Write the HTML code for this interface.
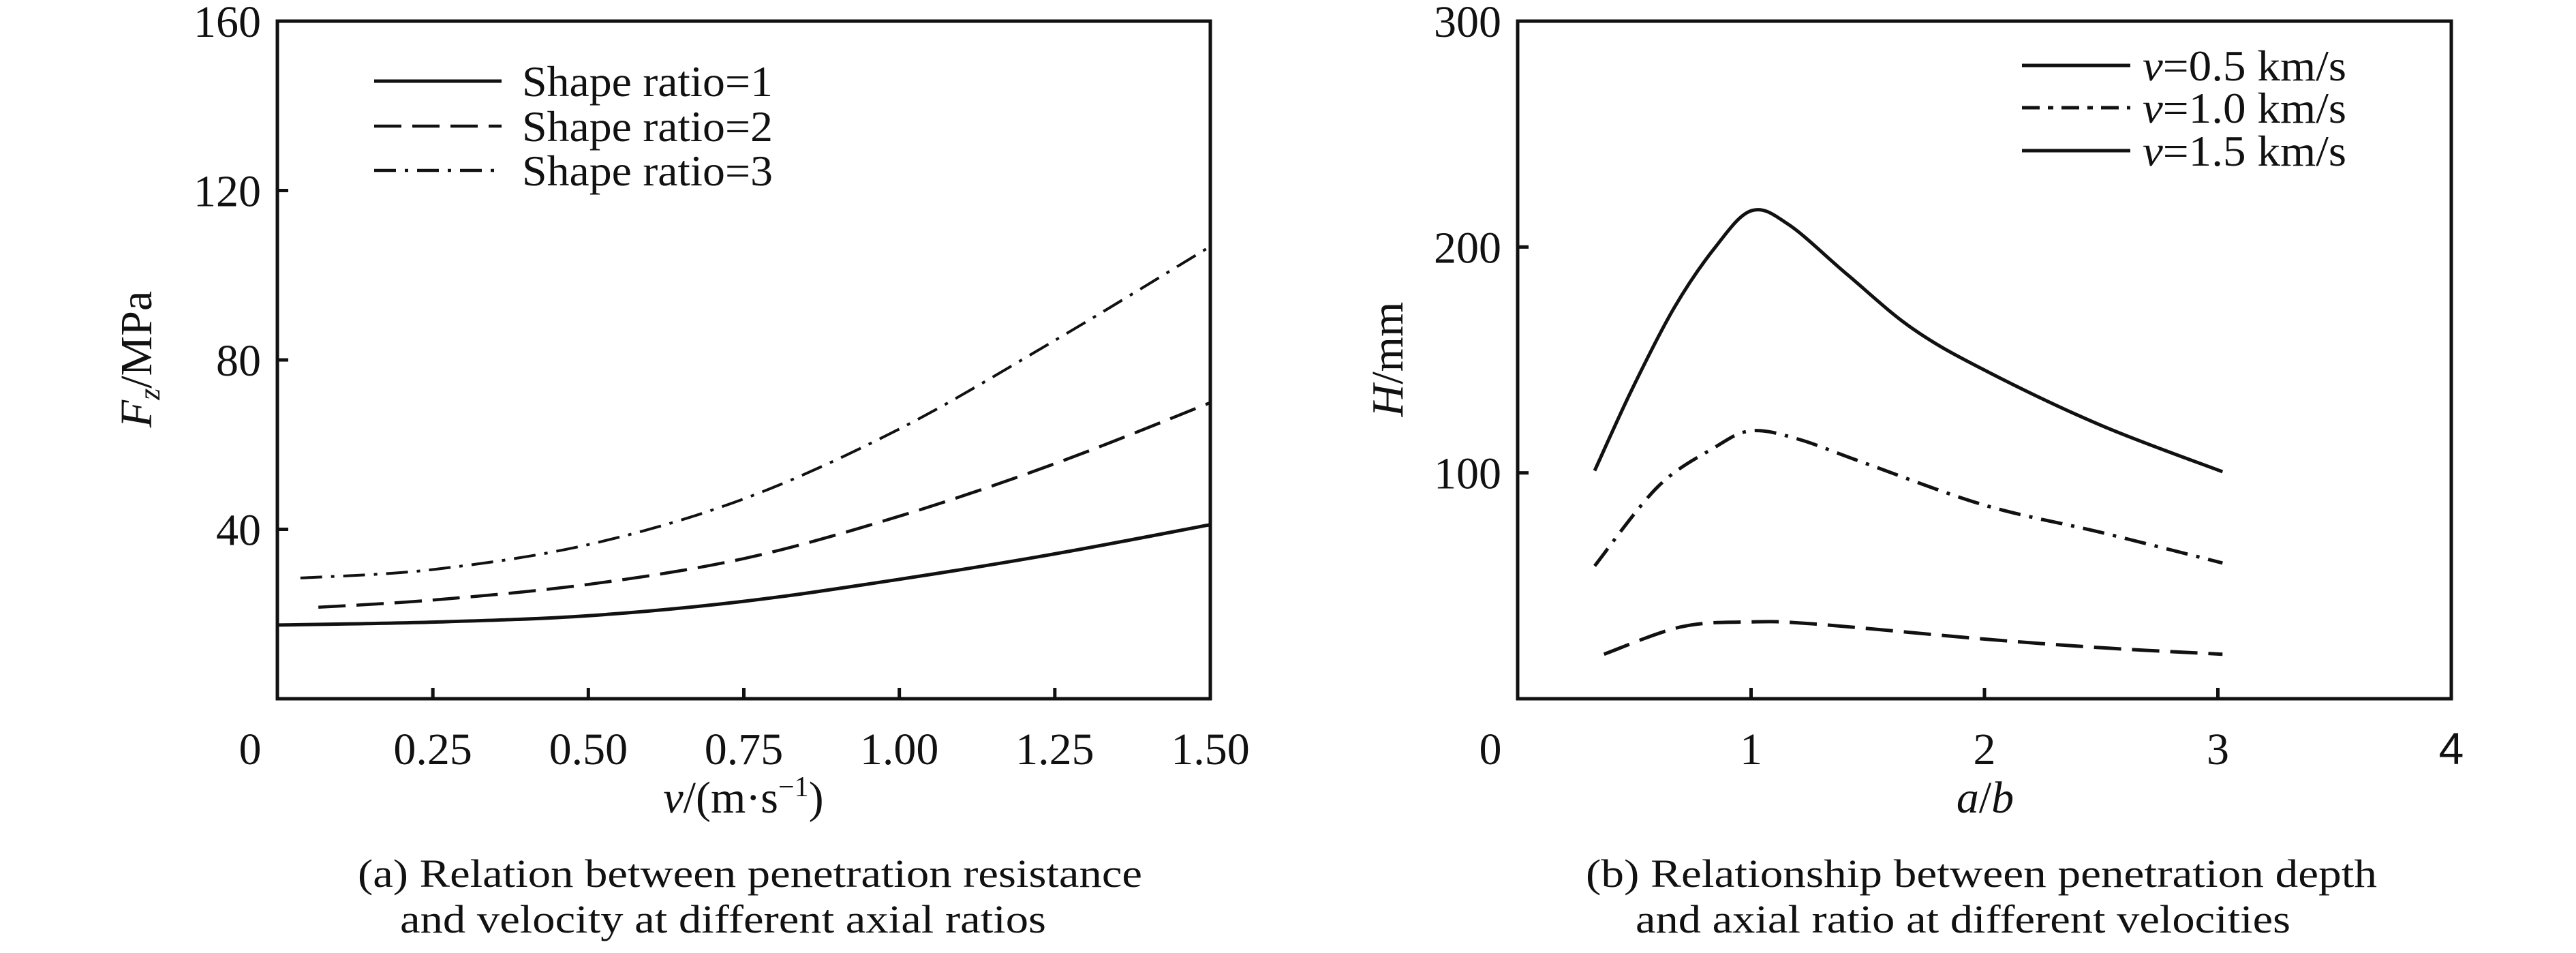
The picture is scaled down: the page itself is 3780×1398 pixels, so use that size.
<!DOCTYPE html>
<html><head><meta charset="utf-8"><style>
html,body{margin:0;padding:0;background:#fff;}
svg{display:block;}
text{font-family:"Liberation Serif",serif;fill:#111;}
</style></head><body>
<svg id="fig" width="3780" height="1398" viewBox="0 0 3780 1398" xmlns="http://www.w3.org/2000/svg"></svg>
<script>
// ---- chart (a) data ----
const aTicksX = [0.25, 0.5, 0.75, 1.0, 1.25, 1.5];
const aTickLabelsX = ["0.25","0.50","0.75","1.00","1.25","1.50"];
const aTicksY = [40, 80, 120, 160];
const aTickLabelsY = ["40","80","120","160"];
const aNames = ["Shape ratio=1","Shape ratio=2","Shape ratio=3"];
const aX1 = [0, 0.25, 0.5, 0.75, 1.0, 1.25, 1.5];
const aY1 = [17.4, 18.1, 19.6, 23.0, 28.2, 34.2, 41.1];
const aX2 = [0.066, 0.25, 0.5, 0.75, 1.0, 1.25, 1.5];
const aY2 = [21.6, 23.3, 27.0, 33.1, 43.1, 55.5, 69.9];
const aX3 = [0.037, 0.25, 0.5, 0.75, 1.0, 1.25, 1.5];
const aY3 = [28.5, 30.5, 36.4, 47.2, 63.7, 84.6, 106.8];
// ---- chart (b) data ----
const bTicksX = [1, 2, 3, 4];
const bTickLabelsX = ["1","2","3","4"];
const bTicksY = [100, 200, 300];
const bTickLabelsY = ["100","200","300"];
const bNames = ["=0.5 km/s","=1.0 km/s","=1.5 km/s"];
const bX1 = [0.33, 0.49, 0.67, 0.84, 1.0, 1.16, 1.41, 1.69, 2.0, 2.5, 3.02];
const bY1 = [101, 137, 173, 199, 216, 210, 188, 164, 145.5, 121, 100.5];
const bX2 = [0.33, 0.6, 0.84, 1.0, 1.2, 1.48, 2.0, 2.5, 3.02];
const bY2 = [58.8, 93.8, 111, 118.6, 115, 104.6, 85.7, 73.6, 60.1];
const bX3 = [0.37, 0.7, 1.0, 1.27, 2.0, 2.53, 3.02];
const bY3 = [19.7, 31.8, 34, 33.1, 26.4, 22.4, 19.7];

const NS = "http://www.w3.org/2000/svg";
const svg = document.getElementById('fig');
function mk(tag, attrs, parent){
  const e = document.createElementNS(NS, tag);
  for (const k in attrs) e.setAttribute(k, attrs[k]);
  (parent||svg).appendChild(e);
  return e;
}
function smooth(pts){
  let d = "M"+pts[0][0].toFixed(1)+","+pts[0][1].toFixed(1);
  for (let i=0;i<pts.length-1;i++){
    const p0=pts[Math.max(0,i-1)], p1=pts[i], p2=pts[i+1], p3=pts[Math.min(pts.length-1,i+2)];
    const c1=[p1[0]+(p2[0]-p0[0])/6, p1[1]+(p2[1]-p0[1])/6];
    const c2=[p2[0]-(p3[0]-p1[0])/6, p2[1]-(p3[1]-p1[1])/6];
    d += " C"+c1[0].toFixed(1)+","+c1[1].toFixed(1)+" "+c2[0].toFixed(1)+","+c2[1].toFixed(1)+" "+p2[0].toFixed(1)+","+p2[1].toFixed(1);
  }
  return d;
}
const DASH = "40 16", DASHDOT = "32 13 5 13";

function chart(cfg){
  const g = mk('g', {});
  
  
  const sx = v => cfg.L + (v - cfg.x0) / (cfg.x1 - cfg.x0) * (cfg.R - cfg.L);
  const sy = v => cfg.B - (v - cfg.y0) / (cfg.y1 - cfg.y0) * (cfg.B - cfg.T);
  const frame = mk('rect', {x:cfg.L, y:cfg.T, width:cfg.R-cfg.L, height:cfg.B-cfg.T, fill:'none', stroke:'#111', 'stroke-width':5}, g);
  
  
  cfg.ticksX.forEach((v,i)=>{
    const x = sx(v);
    if (v < cfg.x1) {
      const t = mk('line', {x1:x, x2:x, y1:cfg.B, y2:cfg.B-16, stroke:'#111', 'stroke-width':5}, g);
      
      
    }
    const attrs = {x:x, y:cfg.B+96, 'text-anchor':'middle', 'font-size':66};
    if (cfg.sansLast && i === cfg.ticksX.length-1) attrs['style'] = 'font-family:"Liberation Sans",sans-serif';
    const lb = mk('text', attrs, g);
    lb.textContent = cfg.labelsX[i];
    
    
  });
  const z = mk('text', {x:cfg.L-40, y:cfg.B+96, 'text-anchor':'middle', 'font-size':66}, g);
  z.textContent = "0";
  
  
  cfg.ticksY.forEach((v,i)=>{
    const y = sy(v);
    if (v < cfg.y1) {
      const t = mk('line', {x1:cfg.L, x2:cfg.L+16, y1:y, y2:y, stroke:'#111', 'stroke-width':5}, g);
      
      
    }
    const lb = mk('text', {x:cfg.L-24, y:y+23, 'text-anchor':'end', 'font-size':66}, g);
    lb.textContent = cfg.labelsY[i];
    
    
  });
  cfg.series.forEach((s,i)=>{
    const pts = s.x.map((xv,j)=>[sx(xv), sy(s.y[j])]);
    const p = mk('path', {d:smooth(pts), fill:'none', stroke:'#111', 'stroke-width':s.w||4.5, 'stroke-dasharray':s.dash||'none', 'stroke-linecap':'butt'}, g);
    
    
  });
  return g;
}

chart({name:'chart-a', L:407, R:1776, T:31, B:1025, x0:0, x1:1.5, y0:0, y1:160,
  ticksX:aTicksX, labelsX:aTickLabelsX, ticksY:aTicksY, labelsY:aTickLabelsY,
  series:[{id:'series-shape-ratio-1', x:aX1, y:aY1, w:5},
          {id:'series-shape-ratio-2', x:aX2, y:aY2, dash:DASH},
          {id:'series-shape-ratio-3', x:aX3, y:aY3, dash:DASHDOT, w:4}]});
chart({name:'chart-b', L:2227, R:3597, T:31, B:1025, x0:0, x1:4, y0:0, y1:300, sansLast:true,
  ticksX:bTicksX, labelsX:bTickLabelsX, ticksY:bTicksY, labelsY:bTickLabelsY,
  series:[{id:'series-v-0-5', x:bX1, y:bY1, w:5},
          {id:'series-v-1-0', x:bX2, y:bY2, dash:DASHDOT, w:5},
          {id:'series-v-1-5', x:bX3, y:bY3, dash:DASH, w:5}]});

// legends
const aDash = ['none', DASH, DASHDOT];
const aLy = [119, 185, 250];
aNames.forEach((n,i)=>{
  const l = mk('line', {x1:549, x2:736, y1:aLy[i], y2:aLy[i], stroke:'#111', 'stroke-width':i==0?5:4.5, 'stroke-dasharray':aDash[i]});
  
  
  const t = mk('text', {x:766, y:aLy[i]+22, 'font-size':64, textLength:368, lengthAdjust:'spacingAndGlyphs'});
  t.textContent = n;
  
  
});
const bDash = ['none', '26 12 8 12', 'none'];
const bLy = [96, 158, 221];
bNames.forEach((n,i)=>{
  const l = mk('line', {x1:2967, x2:3126, y1:bLy[i], y2:bLy[i], stroke:'#111', 'stroke-width':5, 'stroke-dasharray':bDash[i]});
  
  
  const t = mk('text', {x:3144, y:bLy[i]+22, 'font-size':64, textLength:299, lengthAdjust:'spacingAndGlyphs'});
  const it = mk('tspan', {'font-style':'italic'}, t); it.textContent = 'v';
  const rs = mk('tspan', {}, t); rs.textContent = n;
  
  
});
</script>
<svg style="position:absolute;left:0;top:0" width="3780" height="1398" xmlns="http://www.w3.org/2000/svg">
  <text x="1091" y="1192" text-anchor="middle" font-size="66" font-family="Liberation Serif, serif"><tspan font-style="italic">v</tspan>/(m·s<tspan dy="-24" font-size="42">−1</tspan><tspan dy="24">)</tspan></text>
  <text transform="translate(222,527) rotate(-90)" text-anchor="middle" font-size="66" font-family="Liberation Serif, serif"><tspan font-style="italic">F</tspan><tspan font-style="italic" font-size="44" dy="12">z</tspan><tspan dy="-12">/MPa</tspan></text>
  <text x="2913" y="1192" text-anchor="middle" font-size="66" font-style="italic" font-family="Liberation Serif, serif">a<tspan font-style="normal">/</tspan>b</text>
  <text transform="translate(2058,527) rotate(-90)" text-anchor="middle" font-size="66" font-family="Liberation Serif, serif"><tspan font-style="italic">H</tspan>/mm</text>
  <text x="525" y="1301" font-size="58" textLength="1151" lengthAdjust="spacingAndGlyphs" font-family="Liberation Serif, serif">(a) Relation between penetration resistance</text>
  <text x="587" y="1368" font-size="58" textLength="948" lengthAdjust="spacingAndGlyphs" font-family="Liberation Serif, serif">and velocity at different axial ratios</text>
  <text x="2327" y="1301" font-size="58" textLength="1161" lengthAdjust="spacingAndGlyphs" font-family="Liberation Serif, serif">(b) Relationship between penetration depth</text>
  <text x="2400" y="1368" font-size="58" textLength="961" lengthAdjust="spacingAndGlyphs" font-family="Liberation Serif, serif">and axial ratio at different velocities</text>
</svg>
</body></html>
